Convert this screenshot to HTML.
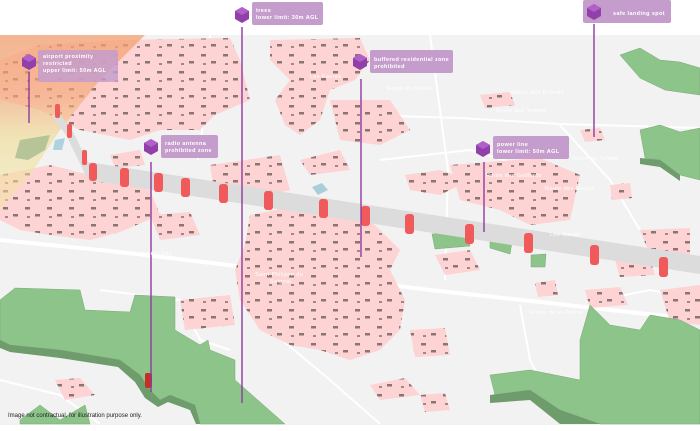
<!DOCTYPE html>
<html><head><meta charset="utf-8"><style>
html,body{margin:0;padding:0;background:#fff;width:700px;height:431px;overflow:hidden;font-family:"Liberation Sans",sans-serif}
svg{display:block}
.lb{font-family:"Liberation Sans",sans-serif;font-size:5.5px;fill:#fff;letter-spacing:0.4px;font-weight:bold}
.rd{font-family:"Liberation Sans",sans-serif;font-size:5.5px;fill:#fff;letter-spacing:0.4px}
</style></head><body>
<svg width="700" height="431" viewBox="0 0 700 431" xmlns="http://www.w3.org/2000/svg">
<defs>
<pattern id="hs" width="22" height="17" patternUnits="userSpaceOnUse">
<rect width="22" height="17" fill="#fdd3d3"/>
<rect x="3" y="3" width="5" height="2.5" fill="#8a7575"/>
<rect x="13" y="10" width="5" height="2.5" fill="#8a7575"/>
<rect x="5" y="12" width="3" height="2" fill="#a08888"/>
</pattern>
<linearGradient id="ap" x1="0" y1="0" x2="0" y2="1">
<stop offset="0" stop-color="#f4a070" stop-opacity="0.75"/>
<stop offset="0.35" stop-color="#f4a878" stop-opacity="0.65"/>
<stop offset="0.6" stop-color="#f0dc90" stop-opacity="0.6"/>
<stop offset="1" stop-color="#f4e8a8" stop-opacity="0.5"/>
</linearGradient>
</defs>
<rect x="0" y="35" width="700" height="390" fill="#f2f2f2"/>
<g stroke="#fff" fill="none" stroke-width="2">
<path d="M0 240 L120 252 L270 270 L430 290 L540 302 L700 320" stroke-width="4"/>
<path d="M360 115 L460 118 L560 124 L700 128"/>
<path d="M430 35 L440 110 L448 170 L445 280"/>
<path d="M210 35 L205 110 L198 160"/>
<path d="M560 125 L610 180 L640 230"/>
<path d="M100 290 L180 300 L200 340 L230 350"/>
<path d="M520 305 L530 360 L560 420"/>
<path d="M270 330 L330 380 L380 424"/>
<path d="M0 380 L60 395 L100 424"/>
<path d="M600 300 L650 290 L700 300"/>
<path d="M380 160 L470 150 L520 165"/>
</g>
<g fill="url(#hs)">
<path d="M0 60 L40 45 L120 40 L230 38 L240 60 L250 100 L215 115 L200 130 L160 130 L130 140 L80 130 L40 110 L0 100Z"/>
<path d="M270 40 L360 38 L370 60 L355 80 L330 90 L320 120 L300 135 L285 125 L275 100 L290 80 L270 60Z"/>
<path d="M0 175 L50 165 L110 180 L150 190 L160 215 L120 232 L90 240 L50 235 L20 230 L0 220Z"/>
<path d="M150 215 L190 212 L200 235 L160 240Z"/>
<path d="M210 165 L280 155 L290 190 L250 200 L215 195Z"/>
<path d="M250 215 L300 205 L360 212 L380 230 L400 250 L390 270 L405 300 L400 330 L380 350 L350 360 L320 350 L290 345 L260 330 L240 300 L235 270 L245 245Z"/>
<path d="M330 100 L390 100 L410 130 L380 145 L340 140Z"/>
<path d="M300 160 L340 150 L350 170 L310 175Z"/>
<path d="M405 175 L440 170 L470 180 L440 195 L410 190Z"/>
<path d="M450 165 L540 158 L580 175 L570 220 L530 225 L500 210 L460 200Z"/>
<path d="M480 95 L510 92 L515 105 L485 108Z"/>
<path d="M580 130 L600 128 L605 140 L585 142Z"/>
<path d="M610 185 L630 183 L632 198 L612 200Z"/>
<path d="M640 230 L690 228 L690 258 L650 255Z"/>
<path d="M660 290 L700 285 L700 325 L670 322Z"/>
<path d="M585 290 L620 287 L628 305 L590 308Z"/>
<path d="M535 283 L555 280 L558 295 L538 297Z"/>
<path d="M435 255 L470 250 L480 270 L445 275Z"/>
<path d="M410 330 L445 328 L450 355 L415 357Z"/>
<path d="M370 385 L405 378 L420 395 L380 400Z"/>
<path d="M420 395 L445 393 L450 410 L425 412Z"/>
<path d="M180 300 L230 295 L235 325 L185 330Z"/>
<path d="M55 380 L80 378 L95 395 L65 400Z"/>
<path d="M60 100 L110 98 L120 115 L70 118Z"/>
<path d="M320 235 L360 230 L365 245 L325 248Z"/>
<path d="M110 155 L140 150 L145 165 L115 168Z"/>
<path d="M615 260 L650 258 L655 275 L620 277Z"/>
</g>
<path d="M0 35 L145 35 L100 80 L60 130 L30 175 L0 210Z" fill="url(#ap)"/>
<path d="M20 140 L50 135 L45 150 L28 160 L15 158Z" fill="#9cb78a" opacity="0.7"/>
<path d="M55 140 L65 138 L62 150 L53 150Z" fill="#9ccad8" opacity="0.8"/>
<path d="M312 187 L322 183 L328 190 L318 195Z" fill="#a8cfd8"/>
<g fill="#8cc48a" stroke="#7aa878" stroke-width="0.5">
<path d="M0 300 L15 288 L80 290 L85 310 L130 312 L135 295 L175 297 L175 330 L200 345 L208 340 L210 350 L235 360 L235 380 L285 424 L200 424 L195 405 L170 395 L160 400 L150 390 L140 375 L120 360 L60 350 L10 345 L0 340Z"/>
<path d="M20 420 L40 405 L60 420 L85 405 L90 424 L20 424Z"/>
<path d="M490 375 L530 370 L580 380 L580 340 L590 305 L610 325 L640 330 L650 315 L680 320 L700 330 L700 424 L600 424 L560 410 L530 390 L495 395Z"/>
<path d="M620 55 L640 48 L660 60 L680 62 L700 68 L700 95 L665 90 L640 78Z"/>
<path d="M640 130 L660 125 L680 132 L700 128 L700 180 L680 175 L660 160 L645 158Z"/>
<path d="M432 234 L468 231 L470 246 L435 249Z"/>
<path d="M490 237 L512 242 L510 254 L490 248Z"/>
<path d="M531 255 L546 254 L545 267 L531 267Z"/>
</g>
<g fill="#6e9c6c">
<path d="M0 340 L10 345 L60 350 L120 360 L140 375 L150 390 L160 400 L170 395 L195 405 L200 424 L196 424 L190 410 L168 402 L158 407 L145 398 L135 382 L118 367 L60 358 L10 352 L0 348Z"/>
<path d="M490 395 L530 390 L560 410 L600 424 L560 424 L530 400 L490 403Z"/>
<path d="M640 158 L660 160 L680 175 L680 181 L660 167 L640 164Z"/>
</g>
<path d="M58 112 L72 130 L88 162 L700 256 L700 274 L88 180 L66 135 L52 116Z" fill="#dcdcdc"/>
<g fill="#f05a5a">
<rect x="55" y="104" width="5" height="14" rx="2"/>
<rect x="67" y="124" width="5" height="14" rx="2"/>
<rect x="82" y="150" width="5" height="15" rx="2"/>
<rect x="89" y="163" width="8" height="18" rx="3"/>
<rect x="120" y="168" width="9" height="19" rx="3"/>
<rect x="154" y="173" width="9" height="19" rx="3"/>
<rect x="181" y="178" width="9" height="19" rx="3"/>
<rect x="219" y="184" width="9" height="19" rx="3"/>
<rect x="264" y="191" width="9" height="19" rx="3"/>
<rect x="319" y="199" width="9" height="19" rx="3"/>
<rect x="361" y="206" width="9" height="20" rx="3"/>
<rect x="405" y="214" width="9" height="20" rx="3"/>
<rect x="465" y="224" width="9" height="20" rx="3"/>
<rect x="524" y="233" width="9" height="20" rx="3"/>
<rect x="590" y="245" width="9" height="20" rx="3"/>
<rect x="659" y="257" width="9" height="20" rx="3"/>
</g>
<rect x="145" y="373" width="7" height="15" rx="2" fill="#c23028"/>
<g stroke="#8e3a9e" stroke-width="1.4">
<line x1="242" y1="27" x2="242" y2="403"/>
<line x1="29" y1="72" x2="29" y2="123"/>
<line x1="151" y1="162" x2="151" y2="392"/>
<line x1="361" y1="79" x2="361" y2="257"/>
<line x1="484" y1="162" x2="484" y2="232"/>
<line x1="594" y1="24" x2="594" y2="137"/>
</g>
<g fill="#c59dcc">
<rect x="252" y="2" width="71" height="23" rx="2"/>
<rect x="38" y="50" width="80" height="32" rx="2" opacity="0.85"/>
<rect x="161" y="135" width="57" height="23" rx="2"/>
<rect x="370" y="50" width="83" height="23" rx="2"/>
<rect x="493" y="136" width="76" height="23" rx="2"/>
<rect x="583" y="0" width="88" height="23" rx="2"/>
</g>
<g>
<g transform="translate(242,15)"><polygon points="0,-8 7,-4 7,4 0,8 -7,4 -7,-4" fill="#9040a8"/><polygon points="0,-8 7,-4 0,0 -7,-4" fill="#b060c8"/></g>
<g transform="translate(29,62)"><polygon points="0,-8 7,-4 7,4 0,8 -7,4 -7,-4" fill="#9040a8"/><polygon points="0,-8 7,-4 0,0 -7,-4" fill="#b060c8"/></g>
<g transform="translate(151,147)"><polygon points="0,-8 7,-4 7,4 0,8 -7,4 -7,-4" fill="#9040a8"/><polygon points="0,-8 7,-4 0,0 -7,-4" fill="#b060c8"/></g>
<g transform="translate(360,62)"><polygon points="0,-8 7,-4 7,4 0,8 -7,4 -7,-4" fill="#9040a8"/><polygon points="0,-8 7,-4 0,0 -7,-4" fill="#b060c8"/></g>
<g transform="translate(483,149)"><polygon points="0,-8 7,-4 7,4 0,8 -7,4 -7,-4" fill="#9040a8"/><polygon points="0,-8 7,-4 0,0 -7,-4" fill="#b060c8"/></g>
<g transform="translate(594,12)"><polygon points="0,-8 7,-4 7,4 0,8 -7,4 -7,-4" fill="#9040a8"/><polygon points="0,-8 7,-4 0,0 -7,-4" fill="#b060c8"/></g>
</g>
<text class="lb" x="256" y="12">trees</text>
<text class="lb" x="256" y="19">lower limit: 30m AGL</text>
<text class="lb" x="43" y="58">airport proximity</text>
<text class="lb" x="43" y="65">restricted</text>
<text class="lb" x="43" y="72">upper limit: 50m AGL</text>
<text class="lb" x="165" y="145">radio antenna</text>
<text class="lb" x="165" y="152">prohibited zone</text>
<text class="lb" x="374" y="61">buffered residential zone</text>
<text class="lb" x="374" y="68">prohibited</text>
<text class="lb" x="497" y="146">power line</text>
<text class="lb" x="497" y="153">lower limit: 50m AGL</text>
<text class="lb" x="613" y="15">safe landing spot</text>
<text class="rd" x="387" y="90">Route du Moulin</text>
<text class="rd" x="510" y="94">Moulin des Briends</text>
<text class="rd" x="496" y="112">Route des Temple</text>
<text class="rd" x="572" y="160">Route du Temple</text>
<text class="rd" x="486" y="177">Route des Gaillards</text>
<text class="rd" x="545" y="190">Route des Marais</text>
<text class="rd" x="550" y="236">Les Marais</text>
<text class="rd" x="530" y="314">Route de la Plaine</text>
<text class="rd" x="255" y="276">Saint Philippe du</text>
<text class="rd" x="270" y="283">Seignal</text>
<text class="rd" x="114" y="255">Route de Sainte-Foy</text>
<text class="rd" x="310" y="78">Les Faures</text>
<text font-family="Liberation Sans" font-size="6" fill="#222" x="8" y="417">Image not contractual, for illustration purpose only.</text>
</svg>
</body></html>
